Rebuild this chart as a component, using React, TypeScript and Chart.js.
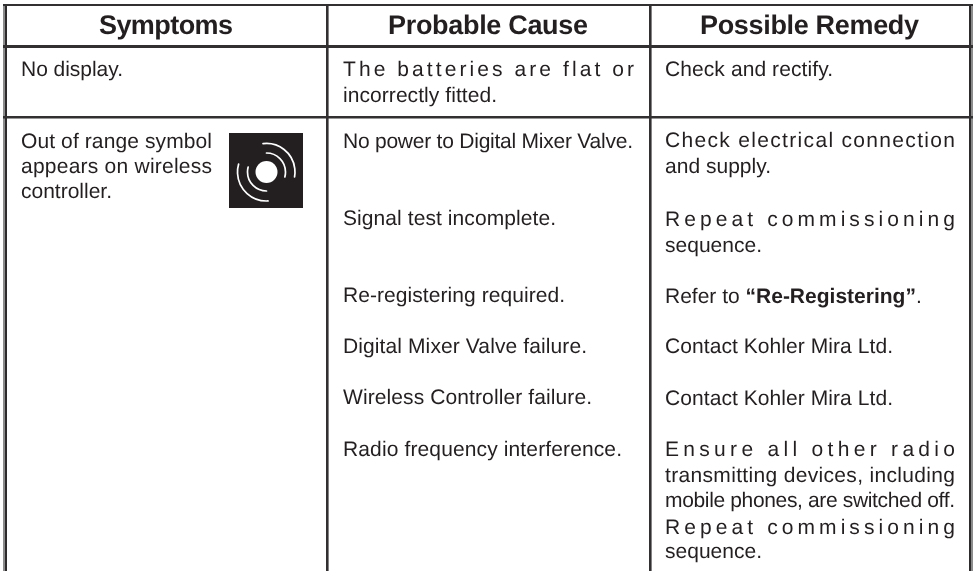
import React, { useEffect, useRef } from "react";
import { Chart, registerables } from "chart.js";

Chart.register(...registerables);

const columnLines = [4, 6, 327, 650, 970, 972];
const columnColours = ["#8c8c8c", "#2e2b2c", "#333031", "#333031", "#2e2b2c", "#8c8c8c"];
const columnWidths = [2, 2, 2.6, 2.6, 2, 2];
const rowLines = [5, 46, 117];
const rowWidths = [2, 3, 2.4];

const headers = ["Symptoms", "Probable Cause", "Possible Remedy"];
const headerStart = [99, 388, 700];
const headerEnd = [233, 588, 919];
const headerBaseline = 34;

const col1Text = ["No display.", "Out of range symbol", "appears on wireless", "controller."];
const col1Base = [76, 148, 173, 198];
const col1End = [123, 212, 212, 112];

const col2Text = [
  "The batteries are flat or",
  "incorrectly fitted.",
  "No power to Digital Mixer Valve.",
  "Signal test incomplete.",
  "Re-registering required.",
  "Digital Mixer Valve failure.",
  "Wireless Controller failure.",
  "Radio frequency interference.",
];
const col2Base = [76, 102, 148, 225, 302, 353, 404, 456];
const col2End = [634, 497, 633, 556, 565, 587, 592, 622];

const col3Text = [
  "Check and rectify.",
  "Check electrical connection",
  "and supply.",
  "Repeat commissioning",
  "sequence.",
  "Refer to ",
  "Contact Kohler Mira Ltd.",
  "Contact Kohler Mira Ltd.",
  "Ensure all other radio",
  "transmitting devices, including",
  "mobile phones, are switched off.",
  "Repeat commissioning",
  "sequence.",
];
const col3Base = [76, 147, 173, 226, 252, 303, 353, 405, 456, 482, 507, 534, 558];
const col3End = [833, 955, 771, 955, 762, 0, 893, 893, 955, 955, 955, 955, 762];
const col3Bold = "“Re-Registering”";
const col3BoldTail = ".";

const FONT = '"Liberation Sans", Arial, sans-serif';
const INK = "#231f20";

function fitText(ctx: any, text: string, x: number, y: number, end: number) {
  ctx.letterSpacing = "0px";
  const w = ctx.measureText(text).width;
  const n = Math.max(text.length - 1, 1);
  ctx.letterSpacing = end > 0 ? `${(end - x - w) / n}px` : "0px";
  ctx.fillText(text, x, y);
  ctx.letterSpacing = "0px";
}

const tablePlugin = {
  id: "tablePlugin",
  afterDraw(chart: any) {
    const { ctx, scales } = chart;
    const X = (v: number) => scales.x.getPixelForValue(v);
    const Y = (v: number) => scales.y.getPixelForValue(v);
    ctx.save();
    ctx.fillStyle = INK;
    ctx.textBaseline = "alphabetic";
    ctx.textAlign = "left";
    ctx.textRendering = "geometricPrecision";

    ctx.font = `bold 27px ${FONT}`;
    headers.forEach((h, i) => fitText(ctx, h, X(headerStart[i]), Y(headerBaseline), X(headerEnd[i])));

    ctx.font = `21px ${FONT}`;
    col1Text.forEach((t, i) => fitText(ctx, t, X(21), Y(col1Base[i]), X(col1End[i])));
    col2Text.forEach((t, i) => fitText(ctx, t, X(343), Y(col2Base[i]), X(col2End[i])));
    col3Text.forEach((t, i) => {
      fitText(ctx, t, X(665), Y(col3Base[i]), col3End[i] ? X(col3End[i]) : 0);
      if (!col3End[i]) {
        const a = ctx.measureText(t).width;
        ctx.font = `bold 21px ${FONT}`;
        const b = ctx.measureText(col3Bold).width;
        ctx.fillText(col3Bold, X(665) + a, Y(col3Base[i]));
        ctx.font = `21px ${FONT}`;
        ctx.fillText(col3BoldTail, X(665) + a + b, Y(col3Base[i]));
      }
    });

    // out-of-range symbol
    const ix = X(229), iy = Y(133);
    ctx.fillStyle = INK;
    ctx.fillRect(ix, iy, 74, 75);
    const cx = ix + 37.5, cy = iy + 39;
    ctx.fillStyle = "#fff";
    ctx.beginPath();
    ctx.arc(cx, cy, 11, 0, Math.PI * 2);
    ctx.fill();
    ctx.strokeStyle = "#fff";
    ctx.lineCap = "round";
    ctx.lineWidth = 1.7;
    const arc = (r: number, a: number, b: number) => {
      ctx.beginPath();
      ctx.arc(cx, cy, r, (a * Math.PI) / 180, (b * Math.PI) / 180);
      ctx.stroke();
    };
    arc(19, -90, 15);
    arc(19, 90, 195);
    arc(28.5, -97, 10);
    arc(29, 87, 196);
    ctx.restore();
  },
};

export default function App() {
  const ref = useRef<HTMLCanvasElement>(null);
  useEffect(() => {
    const chart = new Chart(ref.current as HTMLCanvasElement, {
      type: "scatter",
      data: { datasets: [{ data: [], pointRadius: 0 }] },
      options: {
        animation: false,
        responsive: false,
        layout: { padding: { left: 3, top: 4, right: 0, bottom: 0 } },
        plugins: { legend: { display: false }, tooltip: { enabled: false } },
        scales: {
          x: {
            type: "linear",
            min: 3,
            max: 973,
            afterBuildTicks: (s: any) => { s.ticks = columnLines.map((value) => ({ value })); },
            ticks: { display: false },
            border: { display: false },
            grid: {
              drawTicks: false,
              lineWidth: (c: any) => columnWidths[c.index],
              color: (c: any) => columnColours[c.index],
            },
          },
          y: {
            type: "linear",
            reverse: true,
            min: 4,
            max: 571,
            afterBuildTicks: (s: any) => { s.ticks = rowLines.map((value) => ({ value })); },
            ticks: { display: false },
            border: { display: false },
            grid: {
              drawTicks: false,
              lineWidth: (c: any) => rowWidths[c.index],
              color: "#333031",
            },
          },
        },
      },
      plugins: [tablePlugin],
    } as any);
    return () => chart.destroy();
  }, []);
  return (
    <div style={{ position: "absolute", left: 0, top: 0, width: 973, height: 571 }}>
      <canvas ref={ref} width={973} height={571} style={{ display: "block" }} />
    </div>
  );
}
